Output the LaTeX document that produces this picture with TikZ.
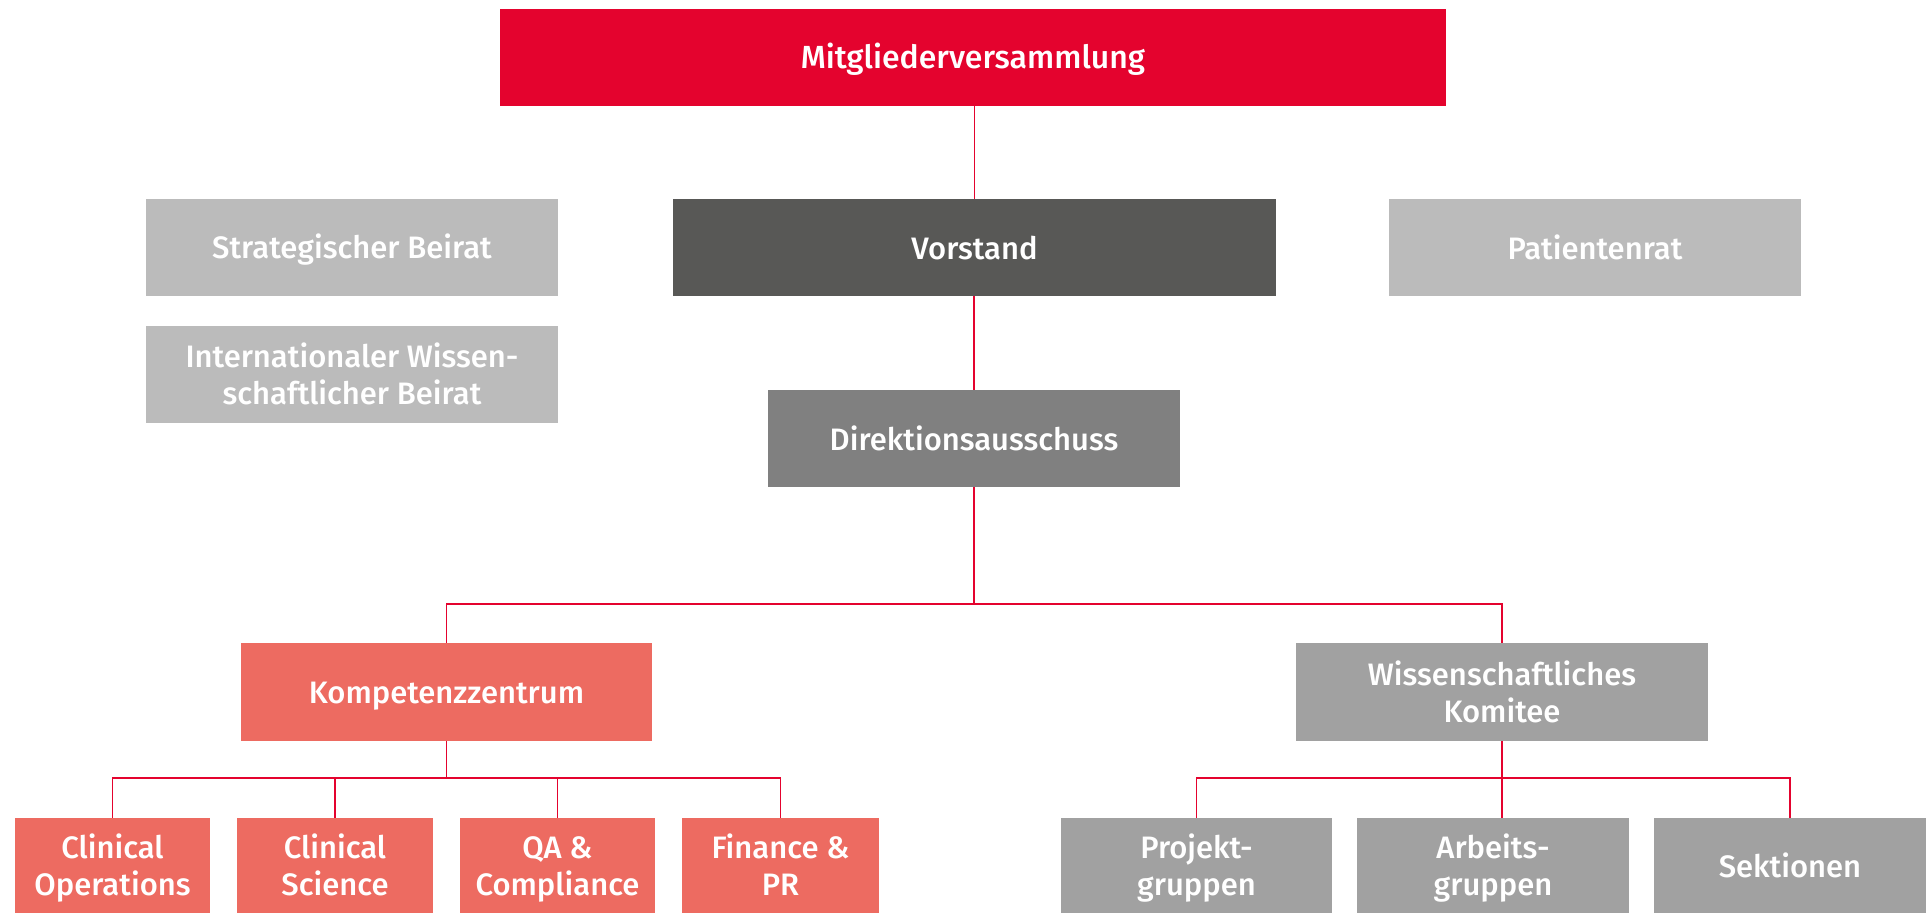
\documentclass[tikz,border=0pt]{standalone}
\usepackage{fontspec}
\setmainfont{Liberation Sans}
\newfontfamily\medfont{Fira Sans Medium}
\definecolor{cred}{HTML}{E4032E}
\definecolor{cdark}{HTML}{585856}
\definecolor{cmid}{HTML}{808080}
\definecolor{clight}{HTML}{BBBBBB}
\definecolor{cgray}{HTML}{A1A1A1}
\definecolor{csalmon}{HTML}{ED6B61}
\newcommand{\lns}{\rule[-6pt]{0pt}{35pt}}
\begin{document}
\begin{tikzpicture}[x=1pt,y=-1pt,
  box/.style={rectangle, inner sep=0pt, text=white, align=center,
    font=\medfont\fontsize{31}{37}\selectfont},
  conn/.style={draw=cred, line width=1.5pt}]
\useasboundingbox (0,0) rectangle (1928,913);
% boxes
\node[box, fill=cred, minimum width=946pt, minimum height=97pt, font=\medfont\fontsize{32}{37}\selectfont] (mv) at (973,57.5) {\lns Mitgliederversammlung};
\node[box, fill=clight, minimum width=412pt, minimum height=97pt] (sb) at (352,247.5) {\lns Strategischer Beirat};
\node[box, fill=clight, minimum width=412pt, minimum height=97pt] (iw) at (352,374.5) {\lns Internationaler Wissen-\\\lns schaftlicher Beirat};
\node[box, fill=cdark, minimum width=603pt, minimum height=97pt] (vo) at (974.5,247.5) {\lns Vorstand};
\node[box, fill=clight, minimum width=412pt, minimum height=97pt] (pr) at (1595,247.5) {\lns Patientenrat};
\node[box, fill=cmid, minimum width=412pt, minimum height=97pt] (di) at (974,438.5) {\lns Direktionsausschuss};
\node[box, fill=csalmon, minimum width=411pt, minimum height=98pt] (kz) at (446.5,692) {\lns Kompetenzzentrum};
\node[box, fill=cgray, minimum width=412pt, minimum height=98pt] (wk) at (1502,692) {\lns Wissenschaftliches\\\lns Komitee};
\node[box, fill=csalmon, minimum width=195pt, minimum height=95pt] (co) at (112.5,865.5) {\lns Clinical\\\lns Operations};
\node[box, fill=csalmon, minimum width=196pt, minimum height=95pt] (cs) at (335,865.5) {\lns Clinical\\\lns Science};
\node[box, fill=csalmon, minimum width=195pt, minimum height=95pt] (qa) at (557.5,865.5) {\lns QA \&\\\lns Compliance};
\node[box, fill=csalmon, minimum width=197pt, minimum height=95pt] (fp) at (780.5,865.5) {\lns Finance \&\\\lns PR};
\node[box, fill=cgray, minimum width=271pt, minimum height=95pt] (pg) at (1196.5,865.5) {\lns Projekt-\\\lns gruppen};
\node[box, fill=cgray, minimum width=272pt, minimum height=95pt] (ag) at (1493,865.5) {\lns Arbeits-\\\lns gruppen};
\node[box, fill=cgray, minimum width=272pt, minimum height=95pt] (se) at (1790,865.5) {\lns Sektionen};
% connectors
\coordinate (b1) at (974,604);
\coordinate (k1) at (446.5,778);
\coordinate (w1) at (1502,778);
\draw[conn] (mv.south -| vo.north) -- (vo.north);
\draw[conn] (vo.south -| di.north) -- (di.north);
\draw[conn] (di.south) -- (b1);
\draw[conn] (kz.north) |- (b1) -| (wk.north);
\draw[conn] (kz.south) -- (k1);
\draw[conn] (co.north) |- (k1) -| (fp.north);
\draw[conn] (cs.north) -- (cs.north |- k1);
\draw[conn] (qa.north) -- (qa.north |- k1);
\draw[conn] (wk.south) -- (w1);
\draw[conn] (pg.north) |- (w1) -| (se.north);
\draw[conn] (w1) -- (w1 |- ag.north);
\end{tikzpicture}
\end{document}
